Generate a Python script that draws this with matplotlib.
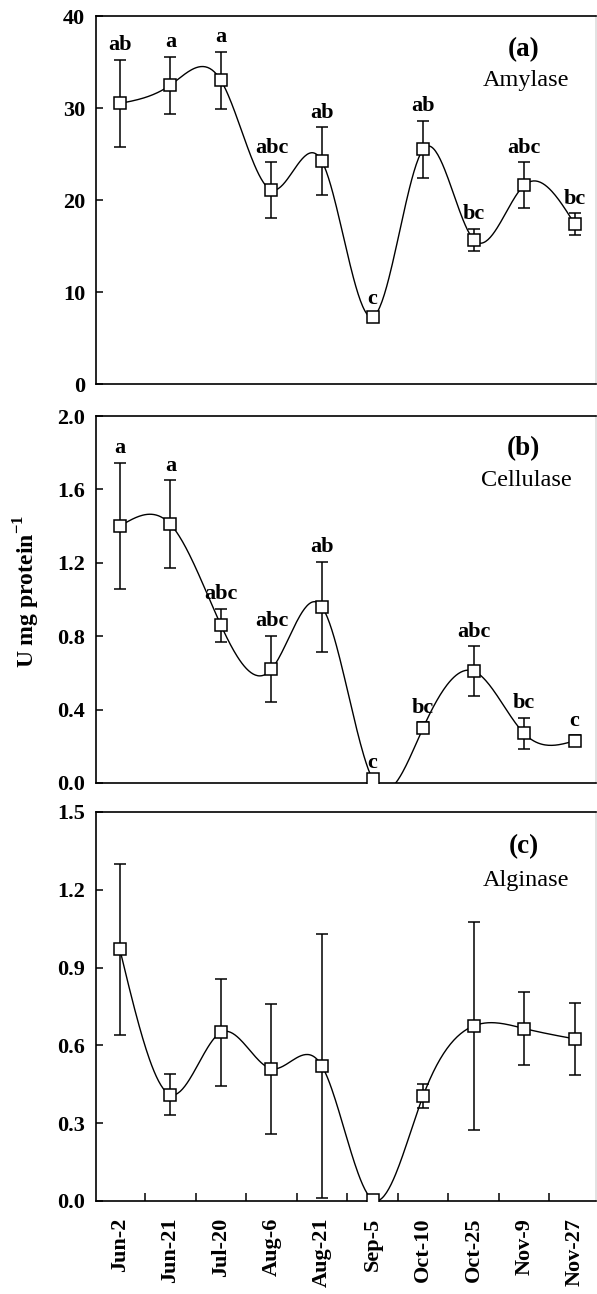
import numpy as np
import matplotlib
matplotlib.use("Agg")
import matplotlib.pyplot as plt
from matplotlib.ticker import FixedLocator, FormatStrFormatter

plt.rcParams['font.family'] = ['Liberation Serif', 'DejaVu Serif']
plt.rcParams['mathtext.fontset'] = 'custom'
plt.rcParams['mathtext.bf'] = 'Liberation Serif:bold'
plt.rcParams['mathtext.rm'] = 'Liberation Serif'

dates = ['Jun-2', 'Jun-21', 'Jul-20', 'Aug-6', 'Aug-21', 'Sep-5',
         'Oct-10', 'Oct-25', 'Nov-9', 'Nov-27']

amylase = [30.5, 32.5, 33.0, 21.1, 24.2, 7.3, 25.5, 15.7, 21.6, 17.4]
amylase_err = [4.75, 3.1, 3.1, 3.0, 3.7, 0.3, 3.1, 1.2, 2.5, 1.15]
amylase_grp = ['ab', 'a', 'a', 'abc', 'ab', 'c', 'ab', 'bc', 'abc', 'bc']

cellulase = [1.40, 1.41, 0.86, 0.62, 0.96, 0.02, 0.30, 0.61, 0.27, 0.23]
cellulase_err = [0.345, 0.24, 0.09, 0.18, 0.245, 0.01, 0.03, 0.135, 0.085, 0.03]
cellulase_grp = ['a', 'a', 'abc', 'abc', 'ab', 'c', 'bc', 'abc', 'bc', 'c']

alginase = [0.97, 0.41, 0.65, 0.51, 0.52, 0.005, 0.405, 0.675, 0.665, 0.625]
alginase_err = [0.33, 0.08, 0.205, 0.25, 0.51, 0.0, 0.045, 0.40, 0.14, 0.14]


def spline(x, y, n=400):
    # natural cubic spline, like the smooth line of the original software
    x = np.asarray(x, float)
    y = np.asarray(y, float)
    k = len(x)
    h = np.diff(x)
    A = np.zeros((k, k))
    r = np.zeros(k)
    A[0, 0] = A[-1, -1] = 1
    for i in range(1, k - 1):
        A[i, i - 1] = h[i - 1]
        A[i, i] = 2 * (h[i - 1] + h[i])
        A[i, i + 1] = h[i]
        r[i] = 6 * ((y[i + 1] - y[i]) / h[i] - (y[i] - y[i - 1]) / h[i - 1])
    M = np.linalg.solve(A, r)
    xs = np.linspace(x[0], x[-1], n)
    idx = np.clip(np.searchsorted(x, xs) - 1, 0, k - 2)
    x0, x1 = x[idx], x[idx + 1]
    hh = x1 - x0
    a = (x1 - xs) / hh
    b = (xs - x0) / hh
    ys = (a * y[idx] + b * y[idx + 1]
          + ((a ** 3 - a) * M[idx] + (b ** 3 - b) * M[idx + 1]) * hh ** 2 / 6)
    return xs, ys


fig = plt.figure(figsize=(5.97, 12.94), dpi=100)

panels = [
    (amylase, amylase_err, amylase_grp, 40, np.arange(0, 41, 10), '%d', '(a)', 'Amylase',
     [0.161, 0.7032, 0.838, 0.2844]),
    (cellulase, cellulase_err, cellulase_grp, 2.0, np.arange(0, 2.01, 0.4), '%.1f', '(b)', 'Cellulase',
     [0.161, 0.3949, 0.838, 0.2836]),
    (alginase, alginase_err, None, 1.5, np.arange(0, 1.51, 0.3), '%.1f', '(c)', 'Alginase',
     [0.161, 0.0719, 0.838, 0.3006]),
]

x = np.arange(len(dates))
for vals, err, grp, ymax, yt, fmt, tag, name, pos in panels:
    ax = fig.add_axes(pos)
    xs, ys = spline(x, vals)
    ax.plot(xs, ys, color='black', lw=1.0, zorder=2)
    ax.errorbar(x, vals, yerr=err, fmt='none', ecolor='black', elinewidth=1.1,
                capsize=4.5, capthick=1.1, zorder=3)
    ax.plot(x, vals, ls='none', marker='s', ms=8.5, mfc='white', mec='black',
            mew=1.1, zorder=4)
    if grp is not None:
        for xi, v, e, g in zip(x, vals, err, grp):
            ax.annotate(g, (xi, v + e), xytext=(0, 7), textcoords='offset points',
                        ha='center', va='baseline', fontsize=16, fontweight='bold')
    ax.text(0.855, 0.91, tag, transform=ax.transAxes, ha='center', va='center',
            fontsize=19.5, fontweight='bold')
    ax.text(0.86, 0.825, name, transform=ax.transAxes, ha='center', va='center',
            fontsize=17.5)
    ax.set_xlim(-0.47, 9.43)
    ax.set_ylim(0, ymax)
    ax.yaxis.set_major_locator(FixedLocator(yt))
    ax.yaxis.set_major_formatter(FormatStrFormatter(fmt))
    ax.tick_params(axis='y', direction='in', length=5, width=1.1, pad=8, labelsize=16)
    for lab in ax.get_yticklabels():
        lab.set_fontweight('bold')
    for s in ax.spines.values():
        s.set_linewidth(1.2)
    ax.spines['right'].set_color('#dddddd')
    if tag == '(c)':
        ax.set_xticks(x)
        ax.set_xticklabels(dates, rotation=90, fontsize=16, fontweight='bold')
        ax.set_xticks(x[:-1] + 0.5, minor=True)
        ax.tick_params(axis='x', which='major', length=0, pad=12)
        ax.tick_params(axis='x', which='minor', direction='in', length=6, width=1.1)
    else:
        ax.set_xticks([])

fig.text(0.045, 0.543, 'U mg protein$^{\\mathbf{-1}}$', rotation=90, ha='center',
         va='center', fontsize=17, fontweight='bold')

fig.savefig('out.png', dpi=100)
